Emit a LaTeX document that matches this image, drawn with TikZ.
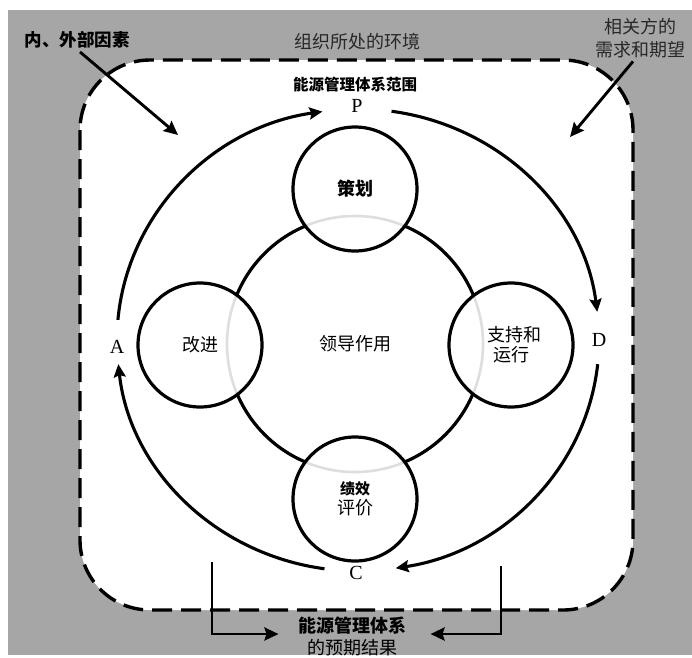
\documentclass[tikz,border=0pt]{standalone}
\usepackage{fontspec}
\setmainfont{Liberation Serif}
\newfontfamily\cjk{Noto Sans CJK SC}
\usetikzlibrary{arrows.meta,calc}
\definecolor{bggray}{RGB}{166,166,166}
\definecolor{txtgray}{RGB}{40,40,40}
\definecolor{faint}{RGB}{222,222,222}
\begin{document}
\begin{tikzpicture}[x=1pt,y=-1pt,
  ring/.style={circle,draw,line width=3.2pt,minimum size=124pt,inner sep=0pt,align=center,
    font=\cjk\fontsize{18pt}{20pt}\selectfont},
  cyc/.style={line width=3.1pt,-{Stealth[length=13pt,width=12pt,inset=2pt]}},
  cornerarrow/.style={line width=2.9pt,-{Stealth[length=14pt,width=13pt,inset=2pt]}},
  letter/.style={font=\fontsize{20pt}{22pt}\selectfont},
  cjkreg/.style={font=\cjk\fontsize{18pt}{23pt}\selectfont},
  cjkbold/.style={font=\cjk\bfseries\fontsize{17.5pt}{20pt}\selectfont},
  ellarc/.style={x radius=241pt,y radius=231pt}]
\useasboundingbox (0,0) rectangle (692,657);
\fill[white] (0,0) rectangle (692,657);
\fill[bggray] (8,10) rectangle (692,655);
\draw[line width=3.4pt,dash pattern=on 20pt off 9pt,fill=white,rounded corners=70pt]
  (80,60) rectangle (633,610);

% central circle
\node[circle,draw=faint,line width=2.6pt,minimum size=256pt,inner sep=0pt,
  font=\cjk\fontsize{18pt}{20pt}\selectfont] (lead) at (355,344) {领导作用};
\foreach \a in {0,90,180,270}
  \draw[line width=3.2pt] ($(lead.center)+(\a+22.8:128pt)$)
    arc[start angle=\a+22.8,end angle=\a+67.2,radius=128pt];

% small circles
\node[ring,font=\cjk\bfseries\fontsize{18pt}{20pt}\selectfont] (plan) at (355,189) {策划};
\node[ring] (improve) at (200,345) {改进};
\node[ring] (support) at (511,345) {\hspace*{6pt}支持和\\运行};
\node[ring] (evaluate) at (355,499) {{\bfseries\fontsize{15pt}{18pt}\selectfont 绩效}\\评价};

% PDCA letters
\node[letter] (P) at (357,106) {P};
\node[letter] (D) at (599,340) {D};
\node[letter] (C) at (356,573) {C};
\node[letter] (A) at (117,347) {A};

% PDCA arcs
\coordinate (O) at (358,340);
\coordinate (pd) at ($(O)+(82:241pt and 231pt)$);
\coordinate (dc) at ($(O)+(-6:241pt and 231pt)$);
\coordinate (ca) at ($(O)+(-98:241pt and 231pt)$);
\coordinate (ap) at ($(O)+(175:241pt and 231pt)$);
\draw[cyc] (pd) arc[start angle=82,end angle=7,ellarc];
\draw[cyc] (dc) arc[start angle=-6,end angle=-81,ellarc];
\draw[cyc] (ca) arc[start angle=-98,end angle=-174,ellarc];
\draw[cyc] (ap) arc[start angle=175,end angle=98.5,ellarc];

% texts
\node[cjkbold] (ext) at (77,40) {内、外部因素};
\node[cjkreg,txtgray] (env) at (357,42) {组织所处的环境};
\node[cjkreg,txtgray,align=center] (rel) at (640,38) {相关方的\\需求和期望};
\node[font=\cjk\bfseries\fontsize{15.5pt}{18pt}\selectfont] (scope) at (355,85) {能源管理体系范围};
\node[font=\cjk\fontsize{18pt}{22pt}\selectfont,align=center] (res) at (352,636)
  {\textbf{能源管理体系}\\的预期结果};

% corner arrows
\coordinate (extTip) at (178,135);
\coordinate (relTip) at (570,137);
\draw[cornerarrow] ([xshift=3pt]ext.south) -- (extTip);
\draw[cornerarrow] ([xshift=-7pt]rel.south) -- (relTip);

% result arrows
\coordinate (lstart) at (212,562);
\coordinate (rstart) at (501,566);
\draw[cornerarrow] (lstart) |- ([xshift=-16pt,yshift=2pt]res.west);
\draw[cornerarrow] (rstart) |- ([xshift=21pt,yshift=2pt]res.east);
\end{tikzpicture}
\end{document}
